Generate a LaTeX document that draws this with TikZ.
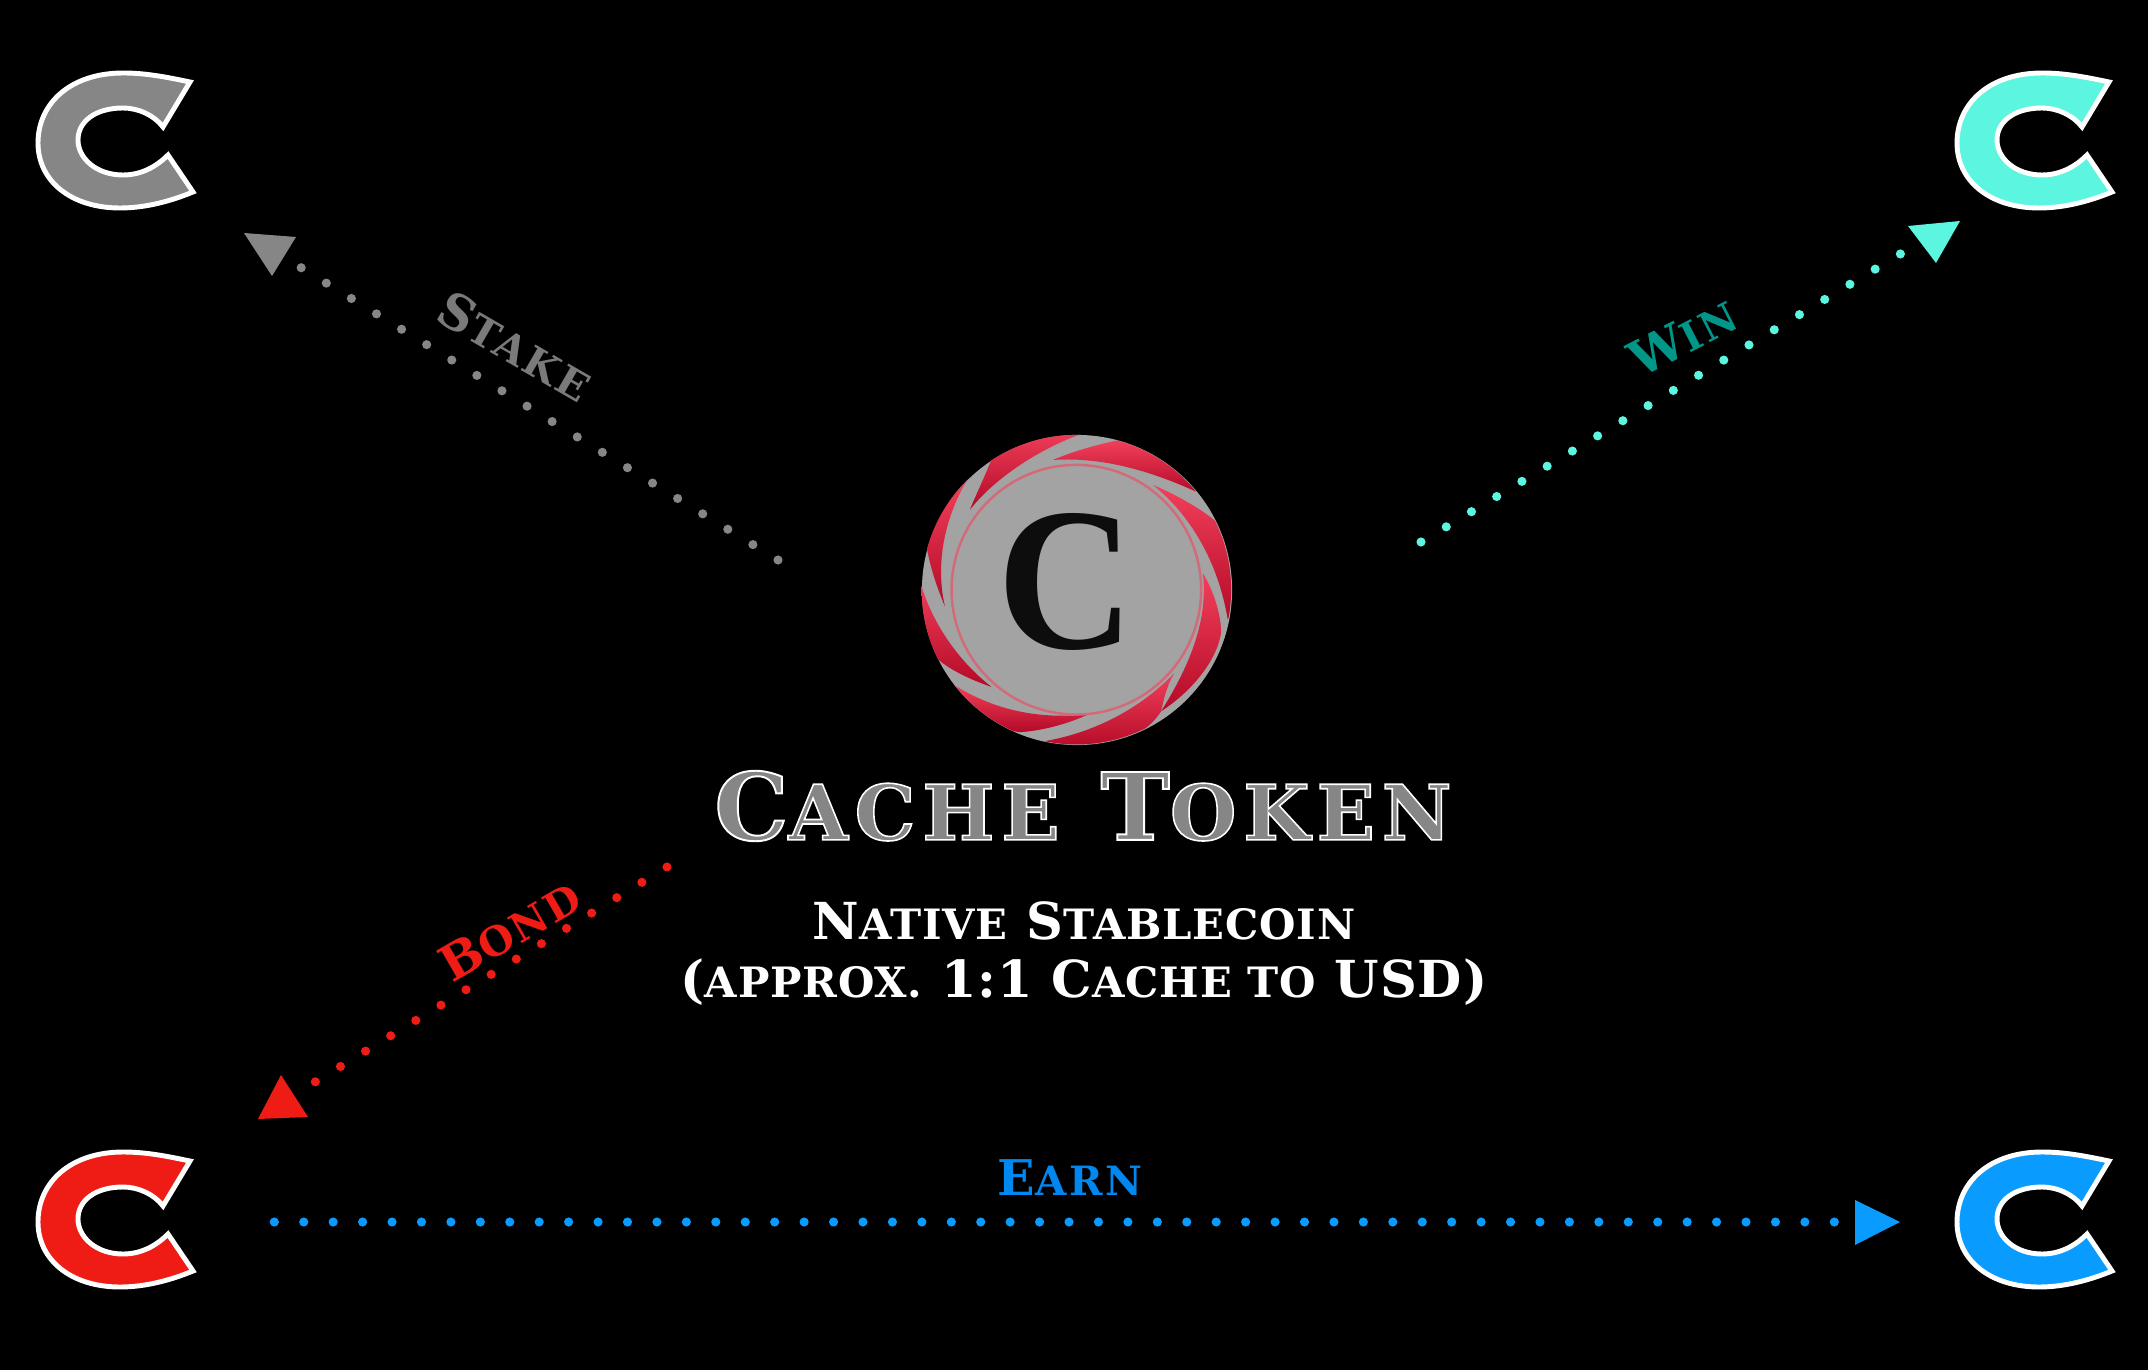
\documentclass[tikz,border=0pt]{standalone}
\usepackage{fontspec}
\setmainfont{DejaVu Serif}
\newfontfamily\logofont{Liberation Serif}
\newfontfamily\titlefont[LetterSpace=9]{DejaVu Serif}
\newfontfamily\subfont[LetterSpace=2]{DejaVu Serif}
\newfontfamily\labelfont[LetterSpace=6]{DejaVu Serif}
\usetikzlibrary{calc}

\definecolor{stakecol}{HTML}{868686}
\definecolor{stakelab}{HTML}{7A7A7A}
\definecolor{wincol}{HTML}{5CF5E0}
\definecolor{winlab}{HTML}{009688}
\definecolor{bondcol}{HTML}{EE1C14}
\definecolor{earncol}{HTML}{0A9BFF}
\definecolor{earnlab}{HTML}{0088F0}
\definecolor{coingrey}{HTML}{A3A3A3}
\definecolor{bladetop}{HTML}{F2405A}
\definecolor{bladelow}{HTML}{B40A28}
\definecolor{ringcol}{HTML}{D26A78}

\newcommand{\sm}[1]{\scalebox{.82}{#1}}
\newcommand{\outlined}[1]{\special{pdf:code q 2 Tr 0.55 w 1 1 1 RG}#1\special{pdf:code 0 Tr Q}}
\newcommand{\oln}[2]{\outlined{#1}\sm{\outlined{#2}}}

\tikzset{
    coinmark/.style={minimum width=1.59cm, minimum height=1.37cm, inner sep=0pt},
    cmark/.pic={
        \filldraw[draw=white, line width=1.4pt, fill=#1]
            (74,-61) .. controls (50,-66) and (30,-70) .. (7,-70)
            .. controls (-45,-70) and (-78,-40) .. (-78,0)
            .. controls (-78,38) and (-45,65) .. (4,65)
            .. controls (30,65) and (55,58) .. (77,49)
            -- (52,12) .. controls (40,24) and (25,32) .. (7,32)
            .. controls (-20,32) and (-38,15) .. (-38,-3)
            .. controls (-38,-22) and (-20,-35) .. (7,-35)
            .. controls (22,-35) and (38,-28) .. (47,-16) -- cycle;
    },
    flow/.style={line width=2.6pt, line cap=round, dash pattern=on 0pt off 8.37pt},
    flowlabel/.style={font=\labelfont\bfseries\fontsize{14}{16}\selectfont, inner sep=0pt},
    blade/.style={top color=bladetop, bottom color=bladelow, draw=none},
}

\begin{document}
\begin{tikzpicture}[x=0.01cm, y=-0.01cm]
    \fill[black] (0,0) rectangle (2148,1370);

    % the four outer coins
    \node (stakecoin) at (116,143) [coinmark] {};
    \node (wincoin) at (2035,143) [coinmark] {};
    \node (bondcoin) at (116,1222) [coinmark] {};
    \node (earncoin) at (2035,1222) [coinmark] {};
    \pic at (stakecoin) {cmark=stakecol};
    \pic at (wincoin) {cmark=wincol};
    \pic at (bondcoin) {cmark=bondcol};
    \pic at (earncoin) {cmark=earncol};

    % centre coin
    \node (hub) at (1077,590) [circle, fill=coingrey, minimum size=3.1cm, inner sep=0pt] {};
    \begin{scope}[shift={(880,410)}, x=0.00333cm, y=-0.00333cm]
        \clip (590,540) circle [radius=465];
        \path[blade] (610,70) .. controls (520,50) and (400,80) .. (340,135)
            .. controls (320,190) and (290,250) .. (270,300)
            .. controls (340,210) and (470,120) .. (610,70) -- cycle;
        \path[blade] (520,150) .. controls (590,120) and (670,100) .. (720,90)
            .. controls (830,100) and (930,180) .. (960,250)
            .. controls (830,190) and (680,140) .. (520,150) -- cycle;
        \path[blade] (820,225) .. controls (900,260) and (970,300) .. (1015,340)
            .. controls (1070,430) and (1080,530) .. (1045,630)
            .. controls (1020,480) and (950,330) .. (820,225) -- cycle;
        \path[blade] (970,490) .. controls (1000,540) and (1025,610) .. (1025,670)
            .. controls (1010,760) and (930,850) .. (845,905)
            .. controls (910,800) and (990,650) .. (970,490) -- cycle;
        \path[blade] (885,790) .. controls (860,830) and (850,880) .. (845,905)
            .. controls (770,1020) and (620,1020) .. (495,995)
            .. controls (640,970) and (780,900) .. (885,790) -- cycle;
        \path[blade] (625,915) .. controls (560,945) and (480,965) .. (420,968)
            .. controls (340,960) and (260,890) .. (220,825)
            .. controls (340,900) and (470,930) .. (625,915) -- cycle;
        \path[blade] (335,832) .. controls (270,810) and (210,780) .. (175,750)
            .. controls (120,690) and (100,600) .. (118,505)
            .. controls (150,630) and (230,750) .. (335,832) -- cycle;
        \path[blade] (195,590) .. controls (170,530) and (150,470) .. (140,410)
            .. controls (160,320) and (210,240) .. (265,205)
            .. controls (195,320) and (165,460) .. (195,590) -- cycle;
        \draw[ringcol, line width=.7pt] (590,540) circle [radius=375];
    \end{scope}
    \node (hubletter) at (1066,582) [font=\logofont\bfseries\fontsize{58}{58}\selectfont, inner sep=0pt, text=black!95] {\scalebox{.93}[1]{C}};

    % titles
    \node (title) at (1083,806) [font=\titlefont\bfseries\fontsize{26.5}{30}\selectfont, text=stakecol, inner sep=0pt]
        {\oln{C}{ACHE} \oln{T}{OKEN}};
    \node (subone) at (1084,921) [font=\subfont\bfseries\fontsize{14.5}{17}\selectfont, text=white, inner sep=0pt]
        {N\sm{ATIVE} S\sm{TABLECOIN}};
    \node (subtwo) at (1084,982) [font=\subfont\bfseries\fontsize{14.5}{17}\selectfont, text=white, inner sep=0pt]
        {(\sm{APPROX.} 1:1 C\sm{ACHE TO} USD)};

    % dotted connectors, the heads are plain triangles
    \coordinate (stakefrom) at (778,560);
    \coordinate (staketo) at (300,267);
    \coordinate (winfrom) at (1421,542);
    \coordinate (winto) at (1902,253);
    \coordinate (bondfrom) at (667,867);
    \coordinate (bondto) at (315,1082);
    \draw[flow, stakecol] (stakefrom) -- (staketo);
    \draw[flow, wincol] (winfrom) -- (winto);
    \draw[flow, bondcol] (bondfrom) -- (bondto);
    \draw[flow, earncol, shorten <=0.78cm, shorten >=1.19cm] (bondcoin) -- (earncoin);

    \fill[stakecol] (244,233) -- (296,237) -- (272,276) -- cycle;
    \fill[wincol] (1908,226) -- (1960,221) -- (1936,263) -- cycle;
    \fill[bondcol] (281,1075) -- (258,1119) -- (308,1117) -- cycle;
    \fill[earncol] (1855,1200) -- (1900,1222) -- (1855,1245) -- cycle;

    % labels on the connectors
    \node (stakelabel) at (515,346) [flowlabel, text=stakelab, rotate=-30] {S\sm{TAKE}};
    \node (winlabel) at (1683,337) [flowlabel, text=winlab, rotate=27] {W\sm{IN}};
    \node (bondlabel) at (510,930) [flowlabel, text=bondcol, rotate=30] {B\sm{OND}};
    \node (earnlabel) at (1070,1178) [flowlabel, text=earnlab] {E\sm{ARN}};
\end{tikzpicture}
\end{document}
